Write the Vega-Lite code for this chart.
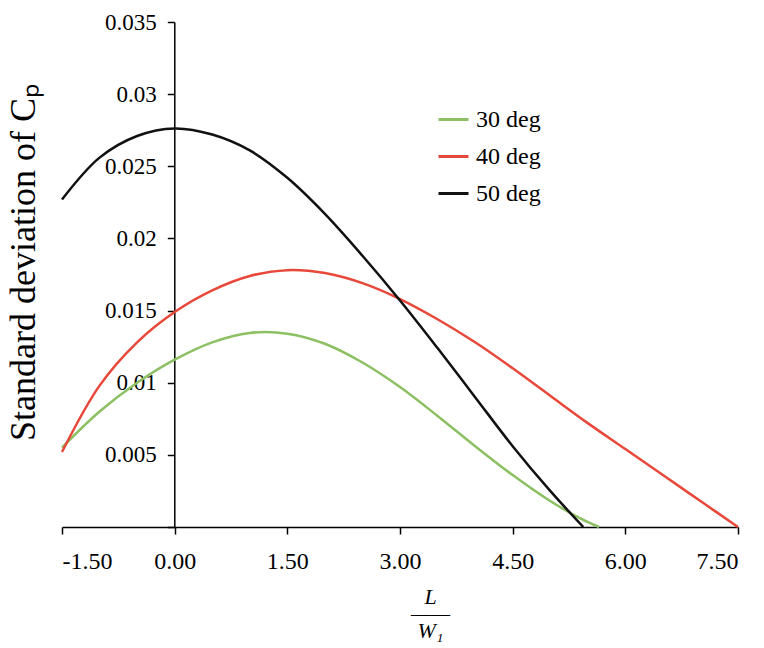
{
  "$schema": "https://vega.github.io/schema/vega-lite/v6.json",
  "width": 676,
  "height": 505,
  "autosize": {"type": "none"},
  "padding": {"left": 62, "top": 22, "right": 26, "bottom": 121},
  "background": "white",
  "config": {
    "view": {"stroke": null},
    "font": "Liberation Serif",
    "axis": {"grid": false, "domainColor": "#000000", "tickColor": "#000000", "labelColor": "#000000", "titleColor": "#000000", "domainWidth": 1.5, "tickWidth": 1.5, "labelFont": "Liberation Serif", "titleFont": "Liberation Serif"}
  },
  "data": {
    "values": [
      {"series": "30 deg", "x": -1.5, "y": 0.0055},
      {"series": "30 deg", "x": -1.0, "y": 0.0080},
      {"series": "30 deg", "x": -0.5, "y": 0.0100},
      {"series": "30 deg", "x": 0.0, "y": 0.0116},
      {"series": "30 deg", "x": 0.5, "y": 0.0128},
      {"series": "30 deg", "x": 1.0, "y": 0.01345},
      {"series": "30 deg", "x": 1.5, "y": 0.0134},
      {"series": "30 deg", "x": 2.0, "y": 0.0127},
      {"series": "30 deg", "x": 2.5, "y": 0.0114},
      {"series": "30 deg", "x": 3.0, "y": 0.0097},
      {"series": "30 deg", "x": 3.5, "y": 0.0077},
      {"series": "30 deg", "x": 4.0, "y": 0.0056},
      {"series": "30 deg", "x": 4.5, "y": 0.0036},
      {"series": "30 deg", "x": 5.0, "y": 0.0018},
      {"series": "30 deg", "x": 5.4, "y": 0.0006},
      {"series": "30 deg", "x": 5.65, "y": 0.0},
      {"series": "40 deg", "x": -1.5, "y": 0.0052},
      {"series": "40 deg", "x": -1.0, "y": 0.0098},
      {"series": "40 deg", "x": -0.5, "y": 0.0128},
      {"series": "40 deg", "x": 0.0, "y": 0.0149},
      {"series": "40 deg", "x": 0.5, "y": 0.0164},
      {"series": "40 deg", "x": 1.0, "y": 0.0174},
      {"series": "40 deg", "x": 1.5, "y": 0.0178},
      {"series": "40 deg", "x": 2.0, "y": 0.0176},
      {"series": "40 deg", "x": 2.5, "y": 0.0169},
      {"series": "40 deg", "x": 3.0, "y": 0.0158},
      {"series": "40 deg", "x": 3.5, "y": 0.0144},
      {"series": "40 deg", "x": 4.0, "y": 0.0128},
      {"series": "40 deg", "x": 4.5, "y": 0.0110},
      {"series": "40 deg", "x": 5.0, "y": 0.0091},
      {"series": "40 deg", "x": 5.5, "y": 0.0072},
      {"series": "40 deg", "x": 6.0, "y": 0.0054},
      {"series": "40 deg", "x": 6.5, "y": 0.0036},
      {"series": "40 deg", "x": 7.0, "y": 0.0018},
      {"series": "40 deg", "x": 7.5, "y": 0.0},
      {"series": "50 deg", "x": -1.5, "y": 0.0227},
      {"series": "50 deg", "x": -1.0, "y": 0.0256},
      {"series": "50 deg", "x": -0.5, "y": 0.0271},
      {"series": "50 deg", "x": 0.0, "y": 0.02762},
      {"series": "50 deg", "x": 0.5, "y": 0.0272},
      {"series": "50 deg", "x": 1.0, "y": 0.0261},
      {"series": "50 deg", "x": 1.5, "y": 0.0242},
      {"series": "50 deg", "x": 2.0, "y": 0.0217},
      {"series": "50 deg", "x": 2.5, "y": 0.0188},
      {"series": "50 deg", "x": 3.0, "y": 0.0157},
      {"series": "50 deg", "x": 3.5, "y": 0.0124},
      {"series": "50 deg", "x": 4.0, "y": 0.0090},
      {"series": "50 deg", "x": 4.5, "y": 0.0056},
      {"series": "50 deg", "x": 5.0, "y": 0.0025},
      {"series": "50 deg", "x": 5.44, "y": 0.0}
    ]
  },
  "mark": {"type": "line", "interpolate": "catmull-rom", "strokeWidth": 2.5, "clip": false},
  "encoding": {
    "x": {
      "field": "x", "type": "quantitative",
      "scale": {"domain": [-1.5, 7.5], "nice": false, "zero": false},
      "axis": {
        "values": [-1.5, 0, 1.5, 3, 4.5, 6, 7.5],
        "labelExpr": "replace(format(datum.value, '.2f'), '\u2212', '-')",
        "labelFontSize": 24,
        "tickSize": 7,
        "labelPadding": 15,
        "title": ["L", "——", "W₁"],
        "titleFontSize": 22,
        "titleFontStyle": "italic",
        "titleFontWeight": "normal",
        "titleLineHeight": 17,
        "titleAnchor": "start",
        "titleAlign": "center",
        "titleBaseline": "middle",
        "titleX": 368,
        "titleY": 69
      }
    },
    "y": {
      "field": "y", "type": "quantitative",
      "scale": {"domain": [0, 0.035], "nice": false},
      "axis": {
        "offset": -112.3,
        "values": [0, 0.005, 0.01, 0.015, 0.02, 0.025, 0.03, 0.035],
        "labelExpr": "datum.value == 0 ? '' : format(datum.value, '.3~f')",
        "labelFontSize": 23,
        "tickSize": 7,
        "labelPadding": 11,
        "title": "Standard deviation of Cₚ",
        "titleFontSize": 36,
        "titleFontWeight": "normal",
        "titleAngle": 270,
        "titleAlign": "center",
        "titleBaseline": "middle",
        "titleX": -151,
        "titleY": 240
      }
    },
    "color": {
      "field": "series", "type": "nominal",
      "scale": {"domain": ["30 deg", "40 deg", "50 deg"], "range": ["#8cc063", "#e8483a", "#111111"]},
      "legend": {
        "title": null,
        "orient": "none",
        "legendX": 375,
        "legendY": 81,
        "padding": 0,
        "symbolType": "stroke",
        "symbolSize": 900,
        "symbolStrokeWidth": 3,
        "labelFont": "Liberation Serif",
        "labelFontSize": 24,
        "labelColor": "#000000",
        "labelOffset": 6,
        "rowPadding": 8
      }
    }
  }
}
